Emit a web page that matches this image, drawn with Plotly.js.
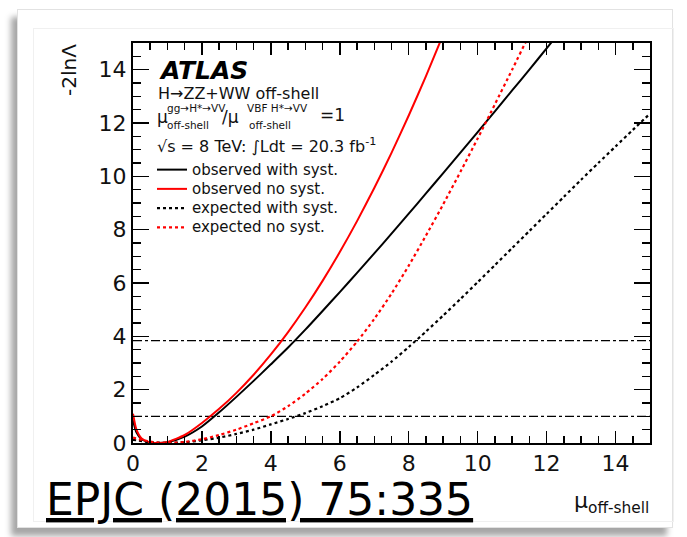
<!DOCTYPE html>
<html>
<head>
<meta charset="utf-8">
<script src="https://cdn.plot.ly/plotly-3.0.1.min.js"></script>
<style>
html,body{margin:0;padding:0;background:#fff;}
#wrap{position:relative;width:687px;height:537px;overflow:hidden;background:#fff;}
#frame{position:absolute;left:17px;top:9px;width:654px;height:517px;border:1px solid #e2e2e2;background:#fff;box-shadow:-6px 8px 6px rgba(0,0,0,0.35);}
#inner{position:absolute;left:33px;top:28px;width:639px;height:492px;border:1px solid #f0f0f0;}
#chart{position:absolute;left:0;top:0;width:687px;height:537px;}
#axes{position:absolute;left:0;top:0;width:687px;height:537px;pointer-events:none;}
</style>
</head>
<body>
<div id="wrap"><div id="frame"></div><div id="inner"></div><div id="chart"></div><div id="axes"></div></div>
<script>
// ---- data ----
const muObs = [0, 0.1, 0.25, 0.5, 0.75, 1, 1.5, 2, 2.5, 3, 3.5, 4, 4.5, 5, 5.5, 6, 6.5, 7, 7.5, 8, 8.5, 9, 9.5, 10, 10.5, 11, 11.5, 12, 12.5];
const obsWithSyst = [0.85, 0.4, 0.14, 0.02, 0, 0.03, 0.24, 0.62, 1.15, 1.73, 2.33, 2.95, 3.58, 4.25, 4.95, 5.66, 6.38, 7.11, 7.85, 8.6, 9.36, 10.12, 10.89, 11.66, 12.44, 13.22, 14.0, 14.8, 15.6];
const muObsNo = [0, 0.1, 0.25, 0.5, 0.75, 1, 1.5, 2, 2.5, 3, 3.5, 4, 4.5, 5, 5.5, 6, 6.5, 7, 7.5, 8, 8.5, 9, 9.5];
const obsNoSyst = [1.1, 0.5, 0.17, 0.02, 0, 0.04, 0.3, 0.75, 1.28, 1.88, 2.56, 3.32, 4.16, 5.08, 6.08, 7.16, 8.32, 9.56, 10.88, 12.28, 13.76, 15.32, 16.96];
const muExpNo = [0, 0.5, 1, 1.5, 2, 2.5, 3, 3.5, 4, 4.5, 5, 5.5, 6, 6.5, 7, 7.5, 8, 8.5, 9, 9.5, 10, 10.5, 11, 11.5, 12];
const expNoSyst = [0.2, 0.05, 0, 0.04, 0.14, 0.3, 0.5, 0.74, 1.0, 1.38, 1.85, 2.4, 3.05, 3.8, 4.65, 5.6, 6.65, 7.78, 8.95, 10.17, 11.42, 12.7, 14.0, 15.32, 16.65];
const muExp = [0, 0.5, 1, 1.5, 2, 2.5, 3, 3.5, 4, 4.5, 5, 5.5, 6, 6.5, 7, 7.5, 8, 8.5, 9, 9.5, 10, 10.5, 11, 11.5, 12, 12.5, 13, 13.5, 14, 14.5, 15];
const expWithSyst = [0.12, 0.03, 0, 0.03, 0.1, 0.2, 0.34, 0.5, 0.7, 0.9, 1.12, 1.38, 1.68, 2.08, 2.55, 3.05, 3.6, 4.18, 4.78, 5.4, 6.03, 6.67, 7.31, 7.95, 8.59, 9.23, 9.87, 10.5, 11.12, 11.74, 12.35];
const clLevels = [1, 3.84];
const seriesNames = ['observed with syst.', 'observed no syst.', 'expected with syst.', 'expected no syst.'];
const AX_MIN = 0, AX_MAX = 15;
const majorStep = 2;
const minorStep = 0.5;

const FONT = 'DejaVu Sans, Liberation Sans, Arial, sans-serif';
const traces = [];
clLevels.forEach(v => traces.push({
  x: [AX_MIN, AX_MAX], y: [v, v], mode: 'lines', showlegend: false, hoverinfo: 'skip',
  line: {color: '#000', width: 1.2, dash: 'dashdot'}
}));
const lbl = s => '<span style="font-size:15px">' + s + '</span>';
traces.push({x: muObs, y: obsWithSyst, name: lbl(seriesNames[0]), mode: 'lines', line: {color: '#000', width: 2, shape: 'spline', smoothing: 0.6}});
traces.push({x: muObsNo, y: obsNoSyst, name: lbl(seriesNames[1]), mode: 'lines', line: {color: '#ff0000', width: 2, shape: 'spline', smoothing: 0.6}});
traces.push({x: muExp, y: expWithSyst, name: lbl(seriesNames[2]), mode: 'lines', line: {color: '#000', width: 2.2, dash: 'dot', shape: 'spline', smoothing: 0.6}});
traces.push({x: muExpNo, y: expNoSyst, name: lbl(seriesNames[3]), mode: 'lines', line: {color: '#ff0000', width: 2.2, dash: 'dot', shape: 'spline', smoothing: 0.6}});

const L = 133, T = 43, W = 517, H = 400;
const px = v => (v - L) / W;
const py = v => (T + H - v) / H;

function ann(text, x, y, size, opts) {
  return Object.assign({
    text: text, xref: 'paper', yref: 'paper', x: px(x), y: py(y),
    xanchor: 'left', yanchor: 'middle', showarrow: false,
    font: {family: FONT, size: size, color: '#111'}
  }, opts || {});
}

const annotations = [
  ann('<b><i>ATLAS</i></b>', 157, 71, 25, {font: {family: FONT, size: 25, color: '#000'}}),
  ann('H→ZZ+WW off-shell', 156, 94, 16),
  ann('μ', 155, 117, 17),
  ann('gg→H*→VV', 165, 108, 10.5),
  ann('off-shell', 165, 125, 10.5),
  ann('/μ', 220, 117, 17),
  ann('VBF H*→VV', 245, 108, 10.5),
  ann('off-shell', 247, 125, 10.5),
  ann('=1', 318, 115, 17),
  ann('√s = 8 TeV: ∫Ldt = 20.3 fb<sup>-1</sup>', 155, 145, 16),
  ann('-2lnΛ', 69, 70, 20, {xanchor: 'center', textangle: -90}),
  ann('μ<sub>off-shell</sub>', 651, 502, 22, {xanchor: 'right'}),
  ann('<u>EPJC (2015) 75:335</u>', 44, 499, 44, {font: {family: FONT, size: 44, color: '#000'}})
];

function makeAxis(len, minorLen, labels) {
  return {
    range: [AX_MIN, AX_MAX], showgrid: false, zeroline: false, showline: true, mirror: 'allticks',
    linecolor: '#000', linewidth: 2, ticks: 'inside', tickwidth: 1.5, tickcolor: '#000', ticklen: len,
    tickmode: 'linear', tick0: 0, dtick: majorStep, showticklabels: labels,
    tickfont: {family: FONT, size: 22, color: '#111'},
    minor: {dtick: minorStep, ticklen: minorLen, ticks: 'inside', tickcolor: '#000'}
  };
}

const margin = {l: L, r: 687 - L - W, t: T, b: 537 - T - H};
const layout = {
  width: 687, height: 537, margin: margin,
  paper_bgcolor: 'rgba(0,0,0,0)', plot_bgcolor: 'rgba(0,0,0,0)',
  showlegend: true,
  legend: {x: px(152), y: py(155), xanchor: 'left', yanchor: 'top', bgcolor: 'rgba(0,0,0,0)',
    font: {family: FONT, size: 12.5, color: '#111'}, itemwidth: 30, tracegroupgap: 0, traceorder: 'normal'},
  xaxis: makeAxis(12, 7, true),
  yaxis: makeAxis(16, 8, true),
  annotations: annotations
};

Plotly.newPlot('chart', traces, layout, {displayModeBar: false, staticPlot: true});

// transparent overlay carrying the frame tick marks of the same axes
const axesLayout = {
  width: 687, height: 537, margin: margin,
  paper_bgcolor: 'rgba(0,0,0,0)', plot_bgcolor: 'rgba(0,0,0,0)', showlegend: false,
  xaxis: makeAxis(12, 7, false),
  yaxis: makeAxis(16, 8, false)
};
Plotly.newPlot('axes', [{x: [AX_MIN, AX_MAX], y: [AX_MIN, AX_MAX], mode: 'lines', line: {color: 'rgba(0,0,0,0)', width: 1}, showlegend: false, hoverinfo: 'skip'}], axesLayout, {displayModeBar: false, staticPlot: true});
</script>
</body>
</html>
